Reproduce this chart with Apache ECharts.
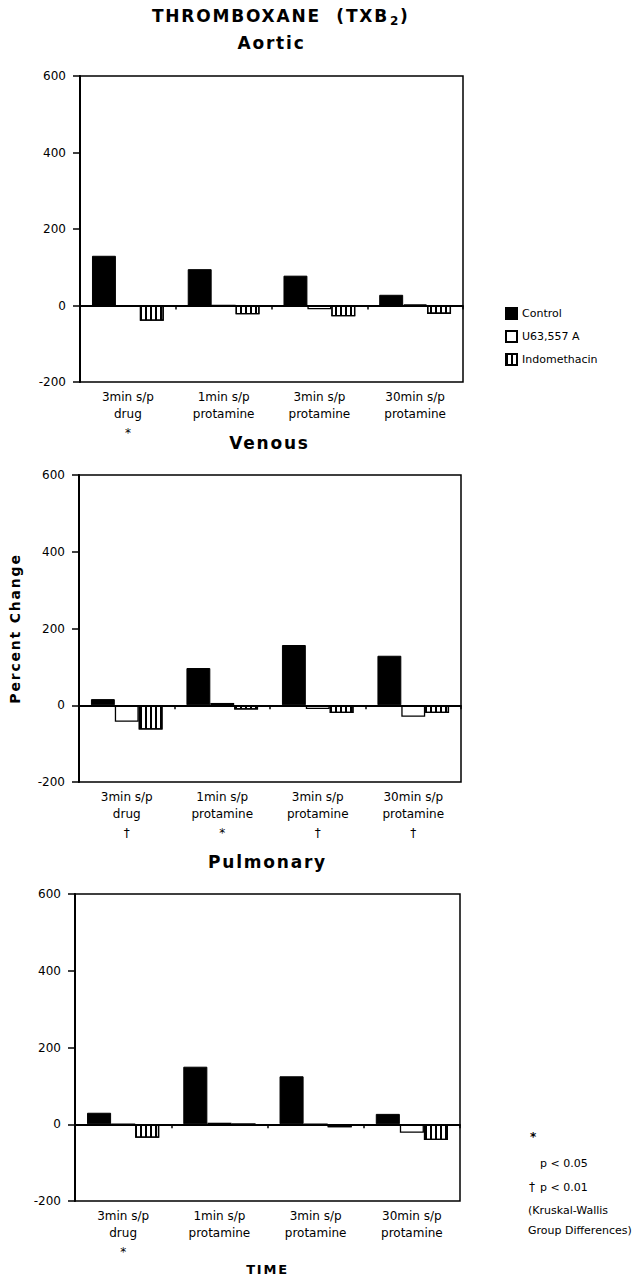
<!DOCTYPE html>
<html><head><meta charset="utf-8">
<script src="https://cdn.jsdelivr.net/npm/echarts@6/dist/echarts.min.js"></script>
<style>
html,body{margin:0;padding:0;background:#fff}
#c{width:634px;height:1285px}
#c svg text[style*="WideT"]{letter-spacing:1.8px}
</style></head><body><div id="c"></div>
<script>
// ---------- data ----------
const categories = ['3min s/p\ndrug', '1min s/p\nprotamine', '3min s/p\nprotamine', '30min s/p\nprotamine'];
const seriesNames = ['Control', 'U63,557 A', 'Indomethacin'];
const panelTitles = ['Aortic', 'Venous', 'Pulmonary'];
const yTicks = [-200, 0, 200, 400, 600];

const aorticControl = [130, 95, 78, 28];
const aorticU63 = [-3, 0, -10, 3];
const aorticIndo = [-40, -23, -28, -22];

const venousControl = [16, 97, 157, 129];
const venousU63 = [-43, 6, -10, -30];
const venousIndo = [-63, -11, -20, -20];

const pulmControl = [30, 150, 125, 27];
const pulmU63 = [0, 4, 0, -22];
const pulmIndo = [-35, 0, -8, -41];

const aorticMarks = ['*', '', '', ''];
const venousMarks = ['\u2020', '*', '\u2020', '\u2020'];
const pulmMarks = ['*', '', '', ''];

const footnotes = ['p < 0.05', 'p < 0.01', '(Kruskal-Wallis', 'Group Differences)'];

// ---------- styling ----------
const SF = 'DejaVu Sans, Liberation Sans, Arial, sans-serif';
const TF = 'WideT, DejaVu Sans, Liberation Sans, Arial, sans-serif';

const grids = [
  {left: 80, right: 171, top: 76, height: 306},
  {left: 78, right: 173, top: 475, height: 307},
  {left: 75, right: 174, top: 894, height: 307}
];
const panels = [
  {c: aorticControl, u: aorticU63, i: aorticIndo, marks: aorticMarks},
  {c: venousControl, u: venousU63, i: venousIndo, marks: venousMarks},
  {c: pulmControl, u: pulmU63, i: pulmIndo, marks: pulmMarks}
];

const hatch = {
  symbol: 'rect', symbolSize: 1,
  dashArrayX: [1.2, 2.1], dashArrayY: [4, 0],
  rotation: 0, color: '#000', backgroundColor: '#fff'
};

const xAxes = [], yAxes = [], series = [];
panels.forEach((p, k) => {
  xAxes.push({
    type: 'category', gridIndex: k, data: categories, boundaryGap: true,
    axisLine: {show: true, lineStyle: {color: '#000', width: 1.5}},
    axisTick: {show: true, length: 4, lineStyle: {color: '#000', width: 1.5}},
    axisLabel: {
      interval: 0, margin: 6, color: '#000',
      formatter: (v, i) => v.split('\n').map(s => '{a|' + s + '}').join('\n') +
        (p.marks[i] ? '\n{m|' + p.marks[i] + '}' : ''),
      rich: {
        a: {fontSize: 12, lineHeight: 17, fontFamily: SF, color: '#000'},
        m: {fontSize: 12, lineHeight: 22, fontFamily: SF, color: '#000'}
      }
    },
    name: k === 2 ? 'TIME' : '', nameLocation: 'middle', nameGap: 62,
    nameTextStyle: {fontFamily: TF, fontWeight: 'bold', fontSize: 13, color: '#000'}
  });
  yAxes.push({
    type: 'value', gridIndex: k, min: yTicks[0], max: yTicks[yTicks.length - 1], interval: 200,
    axisLine: {show: true, lineStyle: {color: '#000', width: 2}},
    axisTick: {show: true, length: 7, lineStyle: {color: '#000', width: 1.5}},
    splitLine: {show: false},
    axisLabel: {color: '#000', fontSize: 12, fontFamily: SF, margin: 14},
    name: k === 1 ? 'Percent Change' : '', nameLocation: 'middle', nameRotate: 90, nameGap: 57,
    nameTextStyle: {fontFamily: TF, fontWeight: 'bold', fontSize: 14, color: '#000'}
  });
  series.push({
    type: 'bar', name: seriesNames[0], xAxisIndex: k, yAxisIndex: k, data: p.c,
    barCategoryGap: '25%', barGap: '0%',
    itemStyle: {color: '#000', borderColor: '#000', borderWidth: 1},
    markLine: {
      silent: true, symbol: ['none', 'none'], label: {show: false},
      lineStyle: {color: '#000', width: 2, type: 'solid'},
      data: [{yAxis: 0}], animation: false
    }
  });
  series.push({
    type: 'bar', name: seriesNames[1], xAxisIndex: k, yAxisIndex: k, data: p.u,
    barCategoryGap: '25%', barGap: '0%',
    itemStyle: {color: '#fff', borderColor: '#000', borderWidth: 1.3}
  });
  series.push({
    type: 'bar', name: seriesNames[2], xAxisIndex: k, yAxisIndex: k, data: p.i,
    barCategoryGap: '25%', barGap: '0%',
    itemStyle: {color: '#fff', borderColor: '#000', borderWidth: 1.3, decal: hatch}
  });
});

const titleY = [43, 443, 862];
const graphics = [
  {type: 'text', style: {text: 'THROMBOXANE  (TXB', x: 389, y: 16, textAlign: 'right', textVerticalAlign: 'middle',
    font: 'bold 17px ' + TF, fill: '#000'}},
  {type: 'text', style: {text: '2', x: 390, y: 21, textAlign: 'left', textVerticalAlign: 'middle',
    font: 'bold 12px ' + TF, fill: '#000'}},
  {type: 'text', style: {text: ')', x: 400, y: 16, textAlign: 'left', textVerticalAlign: 'middle',
    font: 'bold 17px ' + TF, fill: '#000'}}
];
panelTitles.forEach((t, k) => {
  const g = grids[k];
  graphics.push({type: 'text', style: {text: t, x: g.left + (634 - g.left - g.right) / 2, y: titleY[k],
    textAlign: 'center', textVerticalAlign: 'middle', font: 'bold 17px ' + TF, fill: '#000'}});
});
const fnX = 538, fnY = [1163, 1187, 1210, 1230];
graphics.push({type: 'text', style: {text: '*', x: 530, y: 1137, textAlign: 'left', textVerticalAlign: 'middle', font: 'bold 12px ' + SF, fill: '#000'}});
graphics.push({type: 'text', style: {text: '\u2020', x: 529, y: fnY[1], textAlign: 'left', textVerticalAlign: 'middle', font: '12px ' + SF, fill: '#000'}});
footnotes.forEach((t, k) => {
  graphics.push({type: 'text', style: {text: t, x: k < 2 ? fnX + 2 : 528, y: fnY[k], textAlign: 'left',
    textVerticalAlign: 'middle', font: '11px ' + SF, fill: '#000'}});
});

const chart = echarts.init(document.getElementById('c'), null, {renderer: 'svg'});
chart.setOption({
  animation: false,
  backgroundColor: '#fff',
  grid: grids.map(g => Object.assign({show: true, borderColor: '#000', borderWidth: 1.5, backgroundColor: 'transparent'}, g)),
  xAxis: xAxes,
  yAxis: yAxes,
  series: series,
  legend: {
    orient: 'vertical', left: 500, top: 302, itemWidth: 11, itemHeight: 11, itemGap: 10,
    icon: 'rect', data: seriesNames,
    textStyle: {fontSize: 11, fontFamily: SF, color: '#000'}
  },
  graphic: graphics
});
</script></body></html>
